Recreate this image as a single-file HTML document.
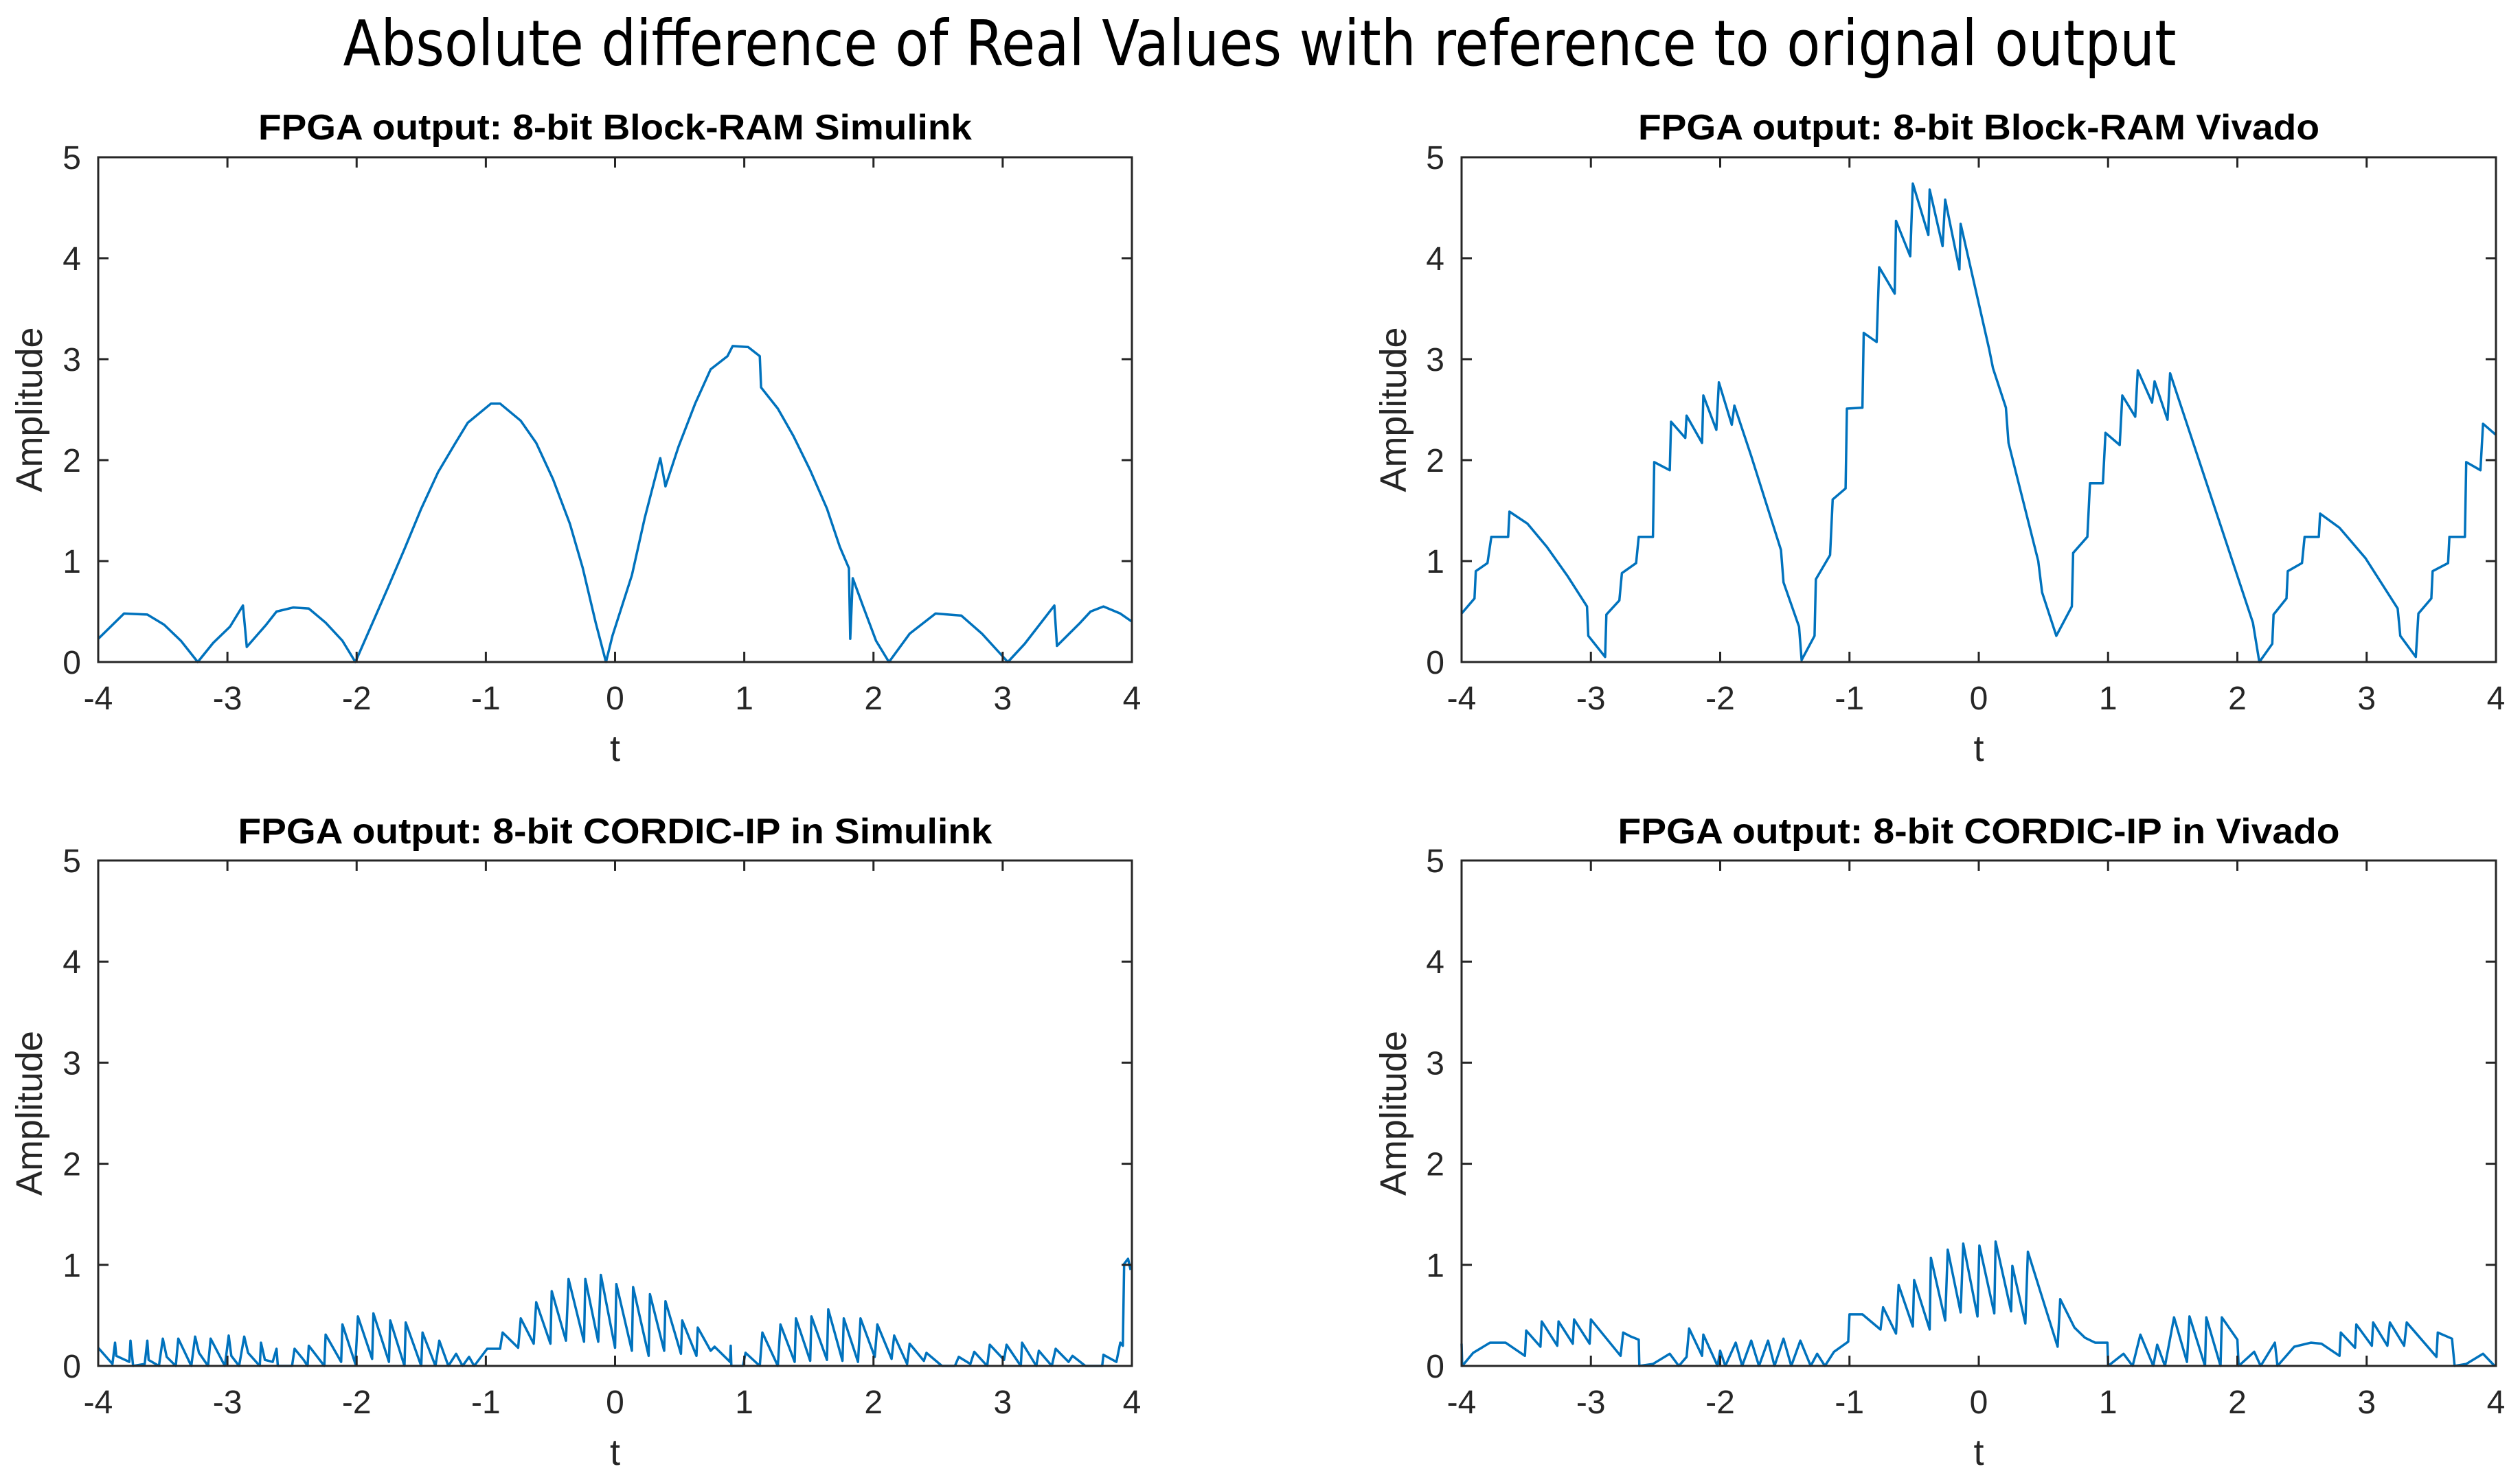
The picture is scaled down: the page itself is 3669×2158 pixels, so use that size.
<!DOCTYPE html>
<html>
<head>
<meta charset="utf-8">
<style>
  html, body { margin: 0; padding: 0; background: #fff; }
  svg { display: block; }
  text { font-family: "Liberation Sans", Arial, sans-serif; fill: #262626; }
</style>
</head>
<body>
<svg id="fig" width="3669" height="2158" viewBox="0 0 3669 2158" xmlns="http://www.w3.org/2000/svg">
  <rect x="0" y="0" width="3669" height="2158" fill="#ffffff"/>
  <text x="1834" y="95" text-anchor="middle" font-size="92" textLength="2669" lengthAdjust="spacingAndGlyphs" style="font-family:'DejaVu Sans','Liberation Sans',sans-serif;fill:#000">Absolute difference of Real Values with reference to orignal output</text>
</svg>
<script>
// ---- shared axis data ----
const xTicks = [-4, -3, -2, -1, 0, 1, 2, 3, 4];
const yTicks = [0, 1, 2, 3, 4, 5];
const xTickLabels = ["-4", "-3", "-2", "-1", "0", "1", "2", "3", "4"];
const yTickLabels = ["0", "1", "2", "3", "4", "5"];
const subplotTitles = [
  "FPGA output: 8-bit Block-RAM Simulink",
  "FPGA output: 8-bit Block-RAM Vivado",
  "FPGA output: 8-bit CORDIC-IP in Simulink",
  "FPGA output: 8-bit CORDIC-IP in Vivado"
];

// ---- series 1: Block-RAM Simulink ----
const tBramSim = [-4,-3.8,-3.62,-3.49,-3.36,-3.23,-3.11,-2.98,-2.88,-2.85,-2.70,-2.62,-2.49,-2.37,-2.24,-2.11,-2.01,-1.76,-1.63,-1.5,-1.37,-1.24,-1.14,-0.96,-0.89,-0.73,-0.61,-0.48,-0.35,-0.25,-0.15,-0.07,-0.02,0.13,0.23,0.35,0.39,0.49,0.62,0.74,0.87,0.91,1.03,1.12,1.13,1.26,1.38,1.51,1.64,1.74,1.81,1.82,1.84,1.92,2.02,2.12,2.28,2.48,2.68,2.84,3.04,3.17,3.40,3.42,3.6,3.68,3.78,3.91,4];
const yBramSim = [0.23,0.48,0.47,0.37,0.21,0,0.19,0.35,0.56,0.15,0.37,0.50,0.54,0.53,0.39,0.21,0,0.73,1.12,1.52,1.88,2.16,2.37,2.56,2.56,2.39,2.17,1.81,1.37,0.93,0.39,0,0.26,0.86,1.43,2.02,1.74,2.13,2.56,2.90,3.03,3.13,3.12,3.03,2.72,2.51,2.24,1.90,1.52,1.14,0.93,0.23,0.83,0.55,0.21,0,0.28,0.48,0.46,0.28,0,0.18,0.56,0.16,0.39,0.50,0.55,0.48,0.40];

// ---- series 2: Block-RAM Vivado ----
const tBramViv = [-4,-3.9,-3.89,-3.8,-3.77,-3.64,-3.63,-3.49,-3.34,-3.18,-3.03,-3.02,-2.89,-2.88,-2.78,-2.76,-2.65,-2.63,-2.52,-2.51,-2.39,-2.38,-2.27,-2.26,-2.14,-2.13,-2.03,-2.01,-1.91,-1.89,-1.76,-1.53,-1.51,-1.39,-1.37,-1.27,-1.26,-1.15,-1.13,-1.03,-1.02,-0.9,-0.89,-0.79,-0.77,-0.65,-0.64,-0.53,-0.51,-0.39,-0.38,-0.28,-0.26,-0.15,-0.14,0.08,0.11,0.21,0.23,0.46,0.49,0.6,0.72,0.73,0.84,0.86,0.96,0.98,1.09,1.11,1.21,1.23,1.34,1.36,1.46,1.48,2.12,2.17,2.27,2.28,2.38,2.39,2.5,2.52,2.63,2.64,2.79,2.99,3.24,3.26,3.38,3.4,3.5,3.51,3.63,3.64,3.76,3.77,3.88,3.9,4];
const yBramViv = [0.48,0.63,0.90,0.98,1.24,1.24,1.49,1.37,1.14,0.85,0.55,0.26,0.05,0.47,0.61,0.88,0.98,1.24,1.24,1.98,1.90,2.38,2.22,2.44,2.17,2.64,2.30,2.77,2.35,2.54,2.04,1.11,0.79,0.35,0.02,0.26,0.82,1.06,1.61,1.72,2.51,2.52,3.26,3.17,3.91,3.65,4.37,4.02,4.74,4.23,4.68,4.12,4.58,3.89,4.34,3.10,2.91,2.52,2.17,1.00,0.69,0.26,0.55,1.08,1.24,1.77,1.77,2.27,2.15,2.64,2.43,2.89,2.57,2.78,2.40,2.86,0.39,0,0.18,0.47,0.63,0.90,0.98,1.24,1.24,1.47,1.33,1.03,0.53,0.26,0.05,0.48,0.63,0.90,0.98,1.24,1.24,1.98,1.90,2.36,2.25];

// ---- series 3: CORDIC-IP Simulink ----
const tCordSim = [-4.00,-3.89,-3.87,-3.86,-3.76,-3.75,-3.73,-3.64,-3.62,-3.61,-3.53,-3.50,-3.47,-3.40,-3.38,-3.28,-3.25,-3.22,-3.15,-3.13,-3.02,-2.99,-2.97,-2.91,-2.87,-2.84,-2.75,-2.74,-2.71,-2.65,-2.62,-2.61,-2.50,-2.48,-2.41,-2.38,-2.37,-2.25,-2.24,-2.12,-2.11,-2.01,-1.99,-1.88,-1.87,-1.75,-1.74,-1.63,-1.62,-1.50,-1.49,-1.39,-1.36,-1.29,-1.23,-1.18,-1.13,-1.09,-0.99,-0.89,-0.87,-0.75,-0.73,-0.63,-0.61,-0.50,-0.49,-0.38,-0.36,-0.24,-0.23,-0.13,-0.11,0.00,0.01,0.13,0.14,0.26,0.27,0.38,0.39,0.51,0.52,0.63,0.64,0.74,0.77,0.89,0.895,0.90,0.99,1.01,1.12,1.14,1.26,1.28,1.39,1.40,1.51,1.52,1.64,1.65,1.76,1.77,1.88,1.90,2.01,2.03,2.14,2.16,2.26,2.28,2.39,2.41,2.53,2.63,2.66,2.75,2.78,2.88,2.90,3.01,3.03,3.14,3.15,3.26,3.28,3.38,3.41,3.51,3.54,3.64,3.77,3.78,3.88,3.91,3.93,3.94,3.97,3.99];
const yCordSim = [0.18,0.02,0.23,0.10,0.04,0.25,0,0.02,0.25,0.06,0,0.27,0.09,0,0.27,0,0.29,0.13,0,0.27,0,0.30,0.10,0,0.29,0.13,0,0.23,0.06,0.04,0.17,0,0,0.17,0.06,0,0.20,0,0.31,0.04,0.41,0.02,0.49,0.07,0.52,0.04,0.45,0,0.43,0,0.33,0,0.25,0,0.12,0,0.09,0,0.17,0.17,0.33,0.18,0.47,0.22,0.63,0.22,0.74,0.25,0.86,0.24,0.86,0.24,0.90,0.18,0.81,0.15,0.78,0.10,0.71,0.15,0.64,0.12,0.45,0.10,0.38,0.15,0.19,0.04,0.20,0,0,0.13,0,0.33,0,0.41,0.04,0.47,0.05,0.49,0.06,0.56,0.05,0.47,0.04,0.47,0.09,0.41,0.07,0.30,0.02,0.22,0.05,0.13,0,0,0.09,0.02,0.14,0,0.21,0.06,0.21,0,0.23,0,0.15,0,0.17,0.04,0.10,0,0,0.11,0.04,0.23,0.20,1.01,1.06,0.95];

// ---- series 4: CORDIC-IP Vivado ----
const tCordViv = [-4.0,-3.995,-3.91,-3.78,-3.66,-3.51,-3.50,-3.39,-3.38,-3.26,-3.25,-3.14,-3.13,-3.01,-3.0,-2.77,-2.75,-2.69,-2.63,-2.625,-2.52,-2.39,-2.32,-2.26,-2.24,-2.14,-2.13,-2.02,-2.0,-1.96,-1.88,-1.83,-1.76,-1.70,-1.63,-1.58,-1.51,-1.45,-1.38,-1.30,-1.25,-1.19,-1.12,-1.01,-1.0,-0.90,-0.76,-0.74,-0.64,-0.62,-0.51,-0.50,-0.38,-0.37,-0.26,-0.24,-0.14,-0.12,-0.01,0.005,0.12,0.13,0.25,0.26,0.36,0.38,0.61,0.63,0.74,0.82,0.90,0.995,1.0,1.12,1.19,1.25,1.35,1.38,1.44,1.51,1.61,1.63,1.75,1.76,1.87,1.88,2.0,2.01,2.13,2.18,2.29,2.31,2.44,2.57,2.65,2.79,2.80,2.91,2.92,3.04,3.05,3.16,3.18,3.29,3.31,3.54,3.55,3.66,3.68,3.77,3.90,3.99];
const yCordViv = [0.22,0,0.13,0.23,0.23,0.10,0.35,0.19,0.44,0.20,0.44,0.22,0.46,0.22,0.46,0.10,0.33,0.29,0.26,0,0.02,0.12,0,0.09,0.37,0.10,0.31,0,0.15,0,0.23,0,0.25,0,0.25,0,0.27,0,0.25,0,0.12,0,0.14,0.24,0.51,0.51,0.36,0.58,0.32,0.80,0.39,0.85,0.36,1.07,0.45,1.15,0.53,1.21,0.49,1.19,0.52,1.23,0.54,0.99,0.42,1.13,0.19,0.66,0.38,0.28,0.23,0.23,0,0.12,0,0.31,0,0.21,0,0.48,0.04,0.49,0,0.48,0,0.48,0.26,0,0.14,0,0.23,0,0.19,0.23,0.22,0.10,0.33,0.18,0.41,0.20,0.43,0.20,0.43,0.20,0.43,0.09,0.33,0.27,0,0.02,0.12,0];

const NS = "http://www.w3.org/2000/svg";
const svg = document.getElementById("fig");

const panels = [
  { key: "block-ram-simulink", left: 143, right: 1648, top: 229, bottom: 964, ts: tBramSim, ys: yBramSim, titleY: 203, titleW: 1039, ylabX: 42 },
  { key: "block-ram-vivado", left: 2128, right: 3634, top: 229, bottom: 964, ts: tBramViv, ys: yBramViv, titleY: 203, titleW: 992, ylabX: 2028 },
  { key: "cordic-simulink", left: 143, right: 1648, top: 1253, bottom: 1989, ts: tCordSim, ys: yCordSim, titleY: 1228, titleW: 1098, ylabX: 42 },
  { key: "cordic-vivado", left: 2128, right: 3634, top: 1253, bottom: 1989, ts: tCordViv, ys: yCordViv, titleY: 1228, titleW: 1051, ylabX: 2028 }
];

function mk(tag, attrs) {
  const e = document.createElementNS(NS, tag);
  for (const k in attrs) e.setAttribute(k, attrs[k]);
  return e;
}

panels.forEach((p, i) => {
  const g = mk("g", {});
  
  
  svg.appendChild(g);
  const xs = t => p.left + (t + 4) / 8 * (p.right - p.left);
  const ys = v => p.bottom - v / 5 * (p.bottom - p.top);

  const d = p.ts.map((t, k) => (k ? "L" : "M") + xs(t).toFixed(1) + " " + ys(p.ys[k]).toFixed(1)).join(" ");
  const line = mk("path", { d: d, fill: "none", stroke: "#0072BD", "stroke-width": 3.5, "stroke-linejoin": "round" });
  
  
  g.appendChild(line);

  const box = mk("rect", { x: p.left, y: p.top, width: p.right - p.left, height: p.bottom - p.top, fill: "none", stroke: "#262626", "stroke-width": 3 });
  
  
  g.appendChild(box);

  xTicks.forEach((t, k) => {
    const x = xs(t);
    const tk = mk("path", { d: `M${x} ${p.bottom}V${p.bottom - 15}M${x} ${p.top}V${p.top + 15}`, stroke: "#262626", "stroke-width": 3 });
    
    
    g.appendChild(tk);
    const lb = mk("text", { x: x, y: p.bottom + 69, "text-anchor": "middle", "font-size": 48 });
    lb.textContent = xTickLabels[k];
    
    
    g.appendChild(lb);
  });
  yTicks.forEach((v, k) => {
    const y = ys(v);
    const tk = mk("path", { d: `M${p.left} ${y}H${p.left + 15}M${p.right} ${y}H${p.right - 15}`, stroke: "#262626", "stroke-width": 3 });
    
    
    g.appendChild(tk);
    const lb = mk("text", { x: p.left - 25, y: y + 17, "text-anchor": "end", "font-size": 48 });
    lb.textContent = yTickLabels[k];
    
    
    g.appendChild(lb);
  });

  const xl = mk("text", { x: (p.left + p.right) / 2, y: p.bottom + 144, "text-anchor": "middle", "font-size": 54 });
  xl.textContent = "t";
  
  
  g.appendChild(xl);

  const cy = (p.top + p.bottom) / 2;
  const yl = mk("text", { x: p.ylabX + 19, y: cy, "text-anchor": "middle", "font-size": 54, transform: `rotate(-90 ${p.ylabX + 19} ${cy})` });
  yl.textContent = "Amplitude";
  
  
  g.appendChild(yl);

  const tt = mk("text", { x: (p.left + p.right) / 2, y: p.titleY, "text-anchor": "middle", "font-size": 52, "font-weight": "bold", textLength: p.titleW, lengthAdjust: "spacingAndGlyphs", style: "fill:#000" });
  tt.textContent = subplotTitles[i];
  
  
  g.appendChild(tt);
});
</script>
</body>
</html>
